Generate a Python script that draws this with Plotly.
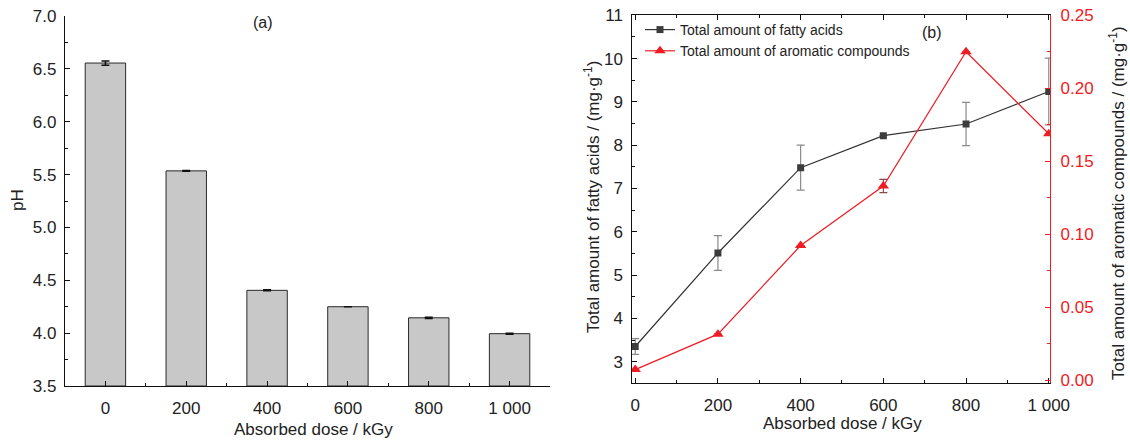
import plotly.graph_objects as go

W, H = 1130, 440

# ---- data: panel (a) pH vs absorbed dose ----
dose_labels = ["0", "200", "400", "600", "800", "1 000"]
ph_values = [6.555, 5.535, 4.405, 4.25, 4.145, 3.995]
ph_err = [0.02, 0.004, 0.005, 0.0, 0.006, 0.005]

# ---- data: panel (b) fatty acids and aromatic compounds ----
dose_kgy = [0, 200, 400, 600, 800, 1000]
fatty_acids = [3.35, 5.51, 7.48, 8.22, 8.49, 9.24]
fatty_err = [0.18, 0.40, 0.52, 0.0, 0.50, 0.77]
aromatics = [0.0072, 0.0315, 0.0922, 0.1330, 0.2250, 0.1688]
aromatics_err = [0.0, 0.0, 0.0, 0.0045, 0.0, 0.0]

FONT = "Liberation Sans, Arial, sans-serif"
RED = "#f01c24"
INK = "#222222"


def px(x):
    return x / W


def py(y):
    return 1 - y / H


fig = go.Figure()

# (a) bars
fig.add_trace(go.Bar(
    x=list(range(len(dose_labels))), y=[v - 3.5 for v in ph_values], base=3.5,
    width=0.5,
    marker=dict(color="#c8c8c8", line=dict(color="#2a2a2a", width=1)),
    error_y=dict(type="data", array=ph_err, color="#111111", thickness=1.5, width=4),
    xaxis="x", yaxis="y", showlegend=False,
))

# (b) fatty acids, left axis
fig.add_trace(go.Scatter(
    x=dose_kgy, y=fatty_acids, mode="lines+markers",
    name="Total amount of fatty acids",
    line=dict(color="#333333", width=1.2),
    marker=dict(symbol="square", size=7, color="#3c3c3c"),
    error_y=dict(type="data", array=fatty_err, color="#8a8a8a", thickness=1.2, width=4),
    xaxis="x2", yaxis="y2",
))

# (b) aromatic compounds, right axis
fig.add_trace(go.Scatter(
    x=dose_kgy, y=aromatics, mode="lines+markers",
    name="Total amount of aromatic compounds",
    line=dict(color=RED, width=1.2),
    marker=dict(symbol="triangle-up", size=10, color=RED),
    error_y=dict(type="data", array=aromatics_err, color="#8a4a4a", thickness=1.2, width=4),
    xaxis="x2", yaxis="y3",
))

tickfont = dict(family=FONT, size=17, color=INK)
common = dict(showgrid=False, zeroline=False, showline=True, linewidth=1.3,
              ticks="inside", ticklen=5, tickwidth=1.2, tickfont=tickfont)

fig.update_layout(
    width=W, height=H,
    margin=dict(l=0, r=0, t=0, b=0, autoexpand=False),
    paper_bgcolor="white", plot_bgcolor="white",
    font=dict(family=FONT, color=INK),
    bargap=0.5,
    xaxis=dict(
        domain=[px(65), px(550)], anchor="y", range=[-0.5, 5.5],
        tickvals=list(range(len(dose_labels))), ticktext=dose_labels,
        linecolor="#111111", tickcolor="#111111", ticklabelstandoff=6,
        minor=dict(tickvals=[i + 0.5 for i in range(-1, 6)], ticks="inside",
                   ticklen=3, tickcolor="#111111", tickwidth=1.2),
        **common,
    ),
    yaxis=dict(
        domain=[py(386), py(16)], anchor="x", range=[3.5, 7.0],
        dtick=0.5, tickformat=".1f", ticklabelstandoff=4,
        linecolor="#111111", tickcolor="#111111",
        minor=dict(dtick=0.25, ticks="inside", ticklen=3, tickcolor="#111111", tickwidth=1.2),
        **common,
    ),
    xaxis2=dict(
        domain=[px(631.5), px(1050)], anchor="y2", range=[-9, 1003],
        tickvals=dose_kgy, ticktext=dose_labels, mirror="ticks", ticklabelstandoff=6,
        linecolor="#111111", tickcolor="#111111",
        minor=dict(dtick=100, ticks="inside", ticklen=3, tickcolor="#111111", tickwidth=1.2),
        **common,
    ),
    yaxis2=dict(
        domain=[py(383.3), py(15.3)], anchor="x2", range=[2.5, 11],
        dtick=1, linecolor="#111111", tickcolor="#111111", ticklabelstandoff=4,
        minor=dict(dtick=0.5, ticks="inside", ticklen=3, tickcolor="#111111", tickwidth=1.2),
        **common,
    ),
    yaxis3=dict(
        overlaying="y2", side="right", anchor="x2", range=[-0.0022, 0.25],
        dtick=0.05, tickformat=".2f", ticklabelstandoff=6,
        showgrid=False, zeroline=False, showline=True, linewidth=1.3,
        linecolor=RED, ticks="inside", ticklen=5, tickwidth=1.2, tickcolor=RED,
        tickfont=dict(family=FONT, size=17, color=RED),
        minor=dict(dtick=0.025, ticks="inside", ticklen=3, tickcolor=RED, tickwidth=1.2),
    ),
    legend=dict(
        x=px(640), y=py(14), xanchor="left", yanchor="top",
        bgcolor="rgba(0,0,0,0)", font=dict(family=FONT, size=14, color=INK),
        itemwidth=30, tracegroupgap=0,
    ),
)

ann = dict(xref="paper", yref="paper", showarrow=False, xanchor="center", yanchor="middle",
           font=dict(family=FONT, size=17, color=INK))
small = dict(ann, font=dict(family=FONT, size=16, color=INK))
fig.add_annotation(text="(a)", x=px(263), y=py(22), **small)
fig.add_annotation(text="(b)", x=px(932), y=py(32), **small)
fig.add_annotation(text="pH", x=px(17), y=py(200), textangle=-90, **ann)
fig.add_annotation(text="Absorbed dose / kGy", x=px(313), y=py(429), **ann)
fig.add_annotation(text="Absorbed dose / kGy", x=px(842), y=py(423), **ann)
fig.add_annotation(text="Total amount of fatty acids / (mg·g<sup>-1</sup>)",
                   x=px(592), y=py(197), textangle=-90, **ann)
fig.add_annotation(text="Total amount of aromatic compounds / (mg·g<sup>-1</sup>)",
                   x=px(1117), y=py(203), textangle=-90, **ann)

fig.write_html("out.html")
